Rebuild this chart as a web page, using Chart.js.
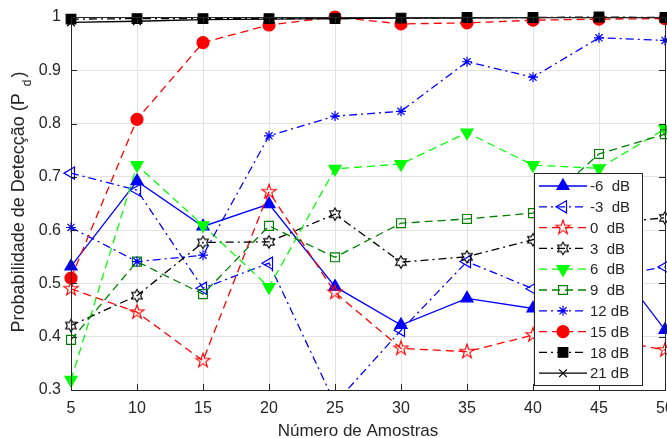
<!DOCTYPE html>
<html>
<head>
<meta charset="utf-8">
<script src="https://cdn.jsdelivr.net/npm/chart.js@4.4.1/dist/chart.umd.min.js"></script>
<style>
  html, body { margin: 0; padding: 0; background: #fff; overflow: hidden; }
  #wrap { width: 667px; height: 438px; }
</style>
</head>
<body>
<div id="wrap"><canvas id="grafico" width="667" height="438"></canvas></div>
<script>
/* ---------------- Dados ---------------- */

const amostras = [5, 10, 15, 20, 25, 30, 35, 40, 45, 50];
const legendas = ["-6  dB", "-3  dB", "0  dB", "3  dB", "6  dB", "9  dB", "12 dB", "15 dB", "18 dB", "21 dB"];
const yTicks = [0.3, 0.4, 0.5, 0.6, 0.7, 0.8, 0.9, 1];

const pdM6 = [0.532, 0.692, 0.607, 0.649, 0.494, 0.422, 0.472, 0.453, 0.575, 0.413];
const pdM3 = [0.707, 0.675, 0.491, 0.538, 0.275, 0.412, 0.541, 0.490, 0.510, 0.531];
const pd0  = [0.490, 0.446, 0.355, 0.672, 0.483, 0.378, 0.372, 0.403, 0.398, 0.375];
const pd3  = [0.421, 0.477, 0.577, 0.578, 0.630, 0.540, 0.550, 0.582, 0.612, 0.623];
const pd6  = [0.319, 0.722, 0.609, 0.493, 0.715, 0.724, 0.783, 0.722, 0.716, 0.790];
const pd9  = [0.394, 0.541, 0.480, 0.608, 0.549, 0.613, 0.621, 0.632, 0.743, 0.780];
const pd12 = [0.605, 0.541, 0.553, 0.777, 0.814, 0.823, 0.916, 0.887, 0.961, 0.956];
const pd15 = [0.510, 0.808, 0.952, 0.985, 1.000, 0.987, 0.989, 0.994, 0.996, 0.997];
const pd18 = [0.996, 0.997, 0.997, 0.997, 0.997, 0.998, 0.999, 0.999, 1.000, 0.999];
const pd21 = [0.990, 0.992, 0.995, 0.996, 0.997, 0.998, 0.998, 0.999, 0.999, 0.999];

/* ---------------- Marcadores ---------------- */

function starCanvas(points, rOut, rIn, color) {
    const c = document.createElement("canvas");
    c.width = 18; c.height = 18;
    const g = c.getContext("2d");
    g.strokeStyle = color;
    g.lineWidth = 1.1;
    g.beginPath();
    for (let i = 0; i < points * 2; i++) {
        const r = i % 2 === 0 ? rOut : rIn;
        const a = -Math.PI / 2 + i * Math.PI / points;
        const x = 9 + r * Math.cos(a), y = 9 + r * Math.sin(a);
        if (i === 0) g.moveTo(x, y); else g.lineTo(x, y);
    }
    g.closePath();
    g.stroke();
    return c;
}

const pentagrama = starCanvas(5, 7.5, 2.9, "#ff0000");
const hexagrama = starCanvas(6, 6.2, 3.6, "#000000");

const DASH = [8, 5];
const DASHDOT = [8, 4, 2, 4];
const NONE = "rgba(0,0,0,0)";

function serie(idx, data, color, dash, style, radius, filled, rotation) {
    return {
        label: legendas[idx],
        data: amostras.map((x, i) => ({ x, y: data[i] })),
        borderColor: color,
        borderWidth: 1.3,
        borderDash: dash,
        pointStyle: style,
        pointRadius: radius,
        pointRotation: rotation || 0,
        pointBackgroundColor: filled ? color : NONE,
        pointBorderColor: color,
        pointBorderWidth: 1.2,
        tension: 0,
        fill: false,
        order: 10 - idx,
        clip: { left: 12, right: 12, top: 12, bottom: 0 }
    };
}

const datasets = [
    serie(0, pdM6, "#0000ff", [], "triangle", 7, true),
    serie(1, pdM3, "#0000ff", DASHDOT, "triangle", 7, false, -90),
    serie(2, pd0, "#ff0000", DASH, pentagrama, 8, false),
    serie(3, pd3, "#000000", DASHDOT, hexagrama, 7, false),
    serie(4, pd6, "#00ff00", DASH, "triangle", 7, true, 180),
    serie(5, pd9, "#008000", DASH, "rect", 6.3, false),
    serie(6, pd12, "#0000ff", DASHDOT, "star", 5, false),
    serie(7, pd15, "#ff0000", DASH, "circle", 6, true),
    serie(8, pd18, "#000000", DASHDOT, "rect", 6.8, true),
    serie(9, pd21, "#000000", [], "crossRot", 5.5, false)
];

/* ---------------- Moldura, títulos e legenda ---------------- */

const AXIS = "#262626";
const FONT = "'Liberation Sans', Arial, sans-serif";

const moldura = {
    id: "moldura",
    afterDatasetsDraw(chart) {
        const { ctx, chartArea: a, scales } = chart;
        ctx.save();
        ctx.strokeStyle = AXIS;
        ctx.lineWidth = 1;
        ctx.setLineDash([]);
        ctx.strokeRect(Math.round(a.left) + 0.5, Math.round(a.top) + 0.5,
            Math.round(a.right - a.left), Math.round(a.bottom - a.top));
        ctx.beginPath();
        amostras.forEach(v => {
            const x = Math.round(scales.x.getPixelForValue(v)) + 0.5;
            ctx.moveTo(x, a.bottom); ctx.lineTo(x, a.bottom - 6);
            ctx.moveTo(x, a.top); ctx.lineTo(x, a.top + 6);
        });
        yTicks.forEach(v => {
            const y = Math.round(scales.y.getPixelForValue(v)) + 0.5;
            ctx.moveTo(a.left, y); ctx.lineTo(a.left + 6, y);
            ctx.moveTo(a.right, y); ctx.lineTo(a.right - 6, y);
        });
        ctx.stroke();

        // x tick labels
        ctx.fillStyle = AXIS;
        ctx.font = "16px " + FONT;
        ctx.textAlign = "center";
        ctx.textBaseline = "alphabetic";
        amostras.forEach(v => {
            ctx.fillText(String(v), scales.x.getPixelForValue(v), a.bottom + 23);
        });
        ctx.restore();
    },
    afterDraw(chart) {
        const ctx = chart.ctx;
        ctx.save();
        ctx.fillStyle = AXIS;

        // x title
        ctx.font = "17px " + FONT;
        ctx.textAlign = "center";
        ctx.textBaseline = "alphabetic";
        ctx.fillText("Número de Amostras", 358, 436);

        // y title with subscript
        const main = "Probabilidade de Detecção (P";
        ctx.textBaseline = "middle";
        ctx.translate(19, 202);
        ctx.rotate(-Math.PI / 2);
        ctx.font = "18px " + FONT;
        const wMain = ctx.measureText(main).width;
        const wClose = ctx.measureText(")").width;
        ctx.font = "12px " + FONT;
        const wSub = ctx.measureText("d").width;
        const gap = 7;
        const total = wMain + gap + wSub + 2 + wClose;
        let x = -total / 2;
        ctx.textAlign = "left";
        ctx.font = "18px " + FONT;
        ctx.fillText(main, x, 0);
        x += wMain + gap;
        ctx.font = "12px " + FONT;
        ctx.fillText("d", x, 9);
        x += wSub + 2;
        ctx.font = "18px " + FONT;
        ctx.fillText(")", x, 0);
        ctx.restore();

        // legend
        const L = 534.5, T = 173.5, W = 108, H = 212;
        ctx.save();
        ctx.fillStyle = "#ffffff";
        ctx.fillRect(L, T, W, H);
        ctx.strokeStyle = AXIS;
        ctx.lineWidth = 1;
        ctx.strokeRect(L, T, W, H);
        chart.data.datasets.forEach((ds, i) => {
            const y = 186 + i * 20.8;
            ctx.strokeStyle = ds.borderColor;
            ctx.lineWidth = ds.borderWidth;
            ctx.setLineDash(ds.borderDash);
            ctx.beginPath();
            ctx.moveTo(539, y); ctx.lineTo(587, y);
            ctx.stroke();
            ctx.setLineDash([]);
            ctx.fillStyle = ds.pointBackgroundColor;
            ctx.lineWidth = ds.pointBorderWidth;
            Chart.helpers.drawPoint(ctx, {
                pointStyle: ds.pointStyle,
                rotation: ds.pointRotation,
                radius: ds.pointRadius,
                borderWidth: ds.pointBorderWidth
            }, 563, y);
            ctx.fillStyle = AXIS;
            ctx.font = "15px " + FONT;
            ctx.textAlign = "left";
            ctx.textBaseline = "middle";
            ctx.fillText(ds.label, 590, y + 1);
        });
        ctx.restore();
    }
};

/* ---------------- Gráfico ---------------- */

new Chart(document.getElementById("grafico"), {
    type: "line",
    data: { datasets },
    options: {
        responsive: false,
        animation: false,
        events: [],
        layout: { autoPadding: false, padding: { top: 17, right: 2, left: 0, bottom: 0 } },
        plugins: { legend: { display: false }, tooltip: { enabled: false } },
        scales: {
            x: {
                type: "linear",
                min: 5,
                max: 50,
                afterBuildTicks: s => { s.ticks = amostras.map(v => ({ value: v })); },
                afterFit: s => { s.height = 48; s.paddingLeft = 0; s.paddingRight = 0; },
                grid: { color: "#e3e3e3", drawTicks: false },
                border: { display: false },
                ticks: { display: false }
            },
            y: {
                min: 0.3,
                max: 1,
                afterBuildTicks: s => { s.ticks = yTicks.map(v => ({ value: v })); },
                afterFit: s => { s.width = 71; s.paddingTop = 0; s.paddingBottom = 0; },
                grid: { color: "#e3e3e3", drawTicks: false },
                border: { display: false },
                ticks: { color: AXIS, font: { family: FONT, size: 16 }, padding: 10,
                    callback: v => String(Math.round(v * 10) / 10) }
            }
        }
    },
    plugins: [moldura]
});
</script>
</body>
</html>
